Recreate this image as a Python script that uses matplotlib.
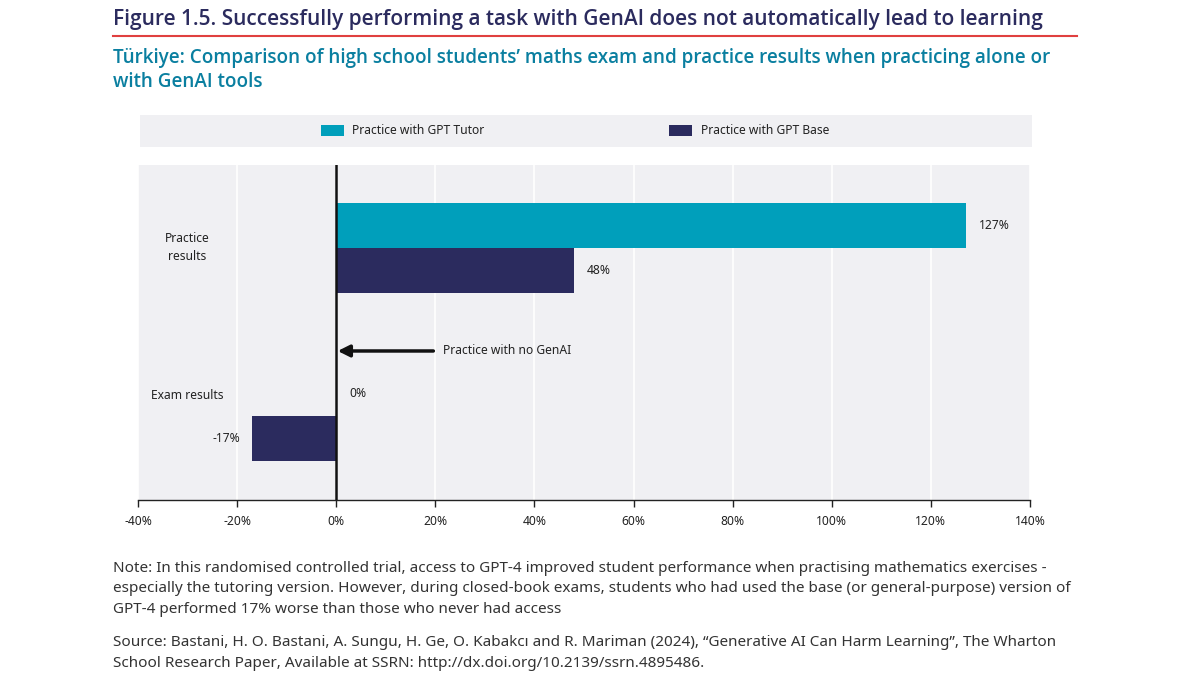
import matplotlib.pyplot as plt
from matplotlib.patches import Rectangle
import numpy as np

plt.rcParams['font.family'] = ['Noto Sans', 'DejaVu Sans']

categories = ['Practice\nresults', 'Exam results']
tutor = [127, 0]
base = [48, -17]
series_names = ['Practice with GPT Tutor', 'Practice with GPT Base']
xticks = [-40, -20, 0, 20, 40, 60, 80, 100, 120, 140]

TUTOR = '#009FBB'
BASE = '#2B2B5E'
BG = '#F0F0F3'
TEXT = '#222222'

fig = plt.figure(figsize=(11.91, 6.77), dpi=100)
ax = fig.add_axes([138 / 1191, 1 - 500 / 677, 892 / 1191, 335 / 677])
ax.set_facecolor(BG)

y = np.array([1.0, 0.0])
h = 0.268
b1 = ax.barh(y + h / 2, tutor, height=h, color=TUTOR, label=series_names[0])
b2 = ax.barh(y - h / 2, base, height=h, color=BASE, label=series_names[1])

# value labels
for yy, v in zip(y + h / 2, tutor):
    ax.text(v + 2.6, yy, f"{v}%", va='center', ha='left', fontsize=8.7, color=TEXT)
for yy, v in zip(y - h / 2, base):
    if v >= 0:
        ax.text(v + 2.6, yy, f"{v}%", va='center', ha='left', fontsize=8.7, color=TEXT)
    else:
        ax.text(v - 2.4, yy, f"{v}%", va='center', ha='right', fontsize=8.7, color=TEXT)

ax.set_xlim(-40, 140)
ax.set_ylim(-0.5, 1.494)
ax.set_xticks(xticks)
ax.set_xticklabels([f"{t}%" for t in xticks], fontsize=8.7, color=TEXT)
ax.set_yticks([])
ax.grid(axis='x', color='white', linewidth=1.2)
ax.set_axisbelow(True)
ax.tick_params(axis='x', length=5, width=1, color='#222222', pad=6)
for s in ['top', 'right', 'left']:
    ax.spines[s].set_visible(False)
ax.spines['bottom'].set_color('#222222')
ax.spines['bottom'].set_linewidth(1)
ax.axvline(0, color='#111111', linewidth=1.8, zorder=3)

# category labels inside the plot area
ax.text(-30, 1.0, categories[0], ha='center', va='center', fontsize=8.7, color=TEXT,
        linespacing=1.5)
ax.text(-30, 0.12, categories[1], ha='center', va='center', fontsize=8.7, color=TEXT)

# arrow annotation
ax.annotate('', xy=(0.3, 0.387), xytext=(19.6, 0.387),
            arrowprops=dict(arrowstyle='-|>,head_length=0.7,head_width=0.35',
                            color='#111111', lw=2.5, shrinkA=0, shrinkB=0))
ax.text(21.6, 0.387, 'Practice with no GenAI', ha='left', va='center', fontsize=8.7, color=TEXT)

# legend band
fig.patches.append(Rectangle((140 / 1191, 1 - 147 / 677), 892 / 1191, 32 / 677,
                             transform=fig.transFigure, facecolor=BG, edgecolor='none',
                             zorder=0))
fig.legend(handles=[b1, b2], labels=series_names, loc='center left',
           bbox_to_anchor=(310 / 1191, 1 - 131 / 677), ncol=2, frameon=False,
           fontsize=8.7, handlelength=1.9, handleheight=1.0, handletextpad=0.7,
           columnspacing=15.3, labelcolor=TEXT)

# titles
fig.text(113 / 1191, 1 - 20 / 677,
         'Figure 1.5. Successfully performing a task with GenAI does not automatically lead to learning',
         fontsize=15.0, family='Open Sans', fontweight='semibold', color='#2B2B5E',
         va='center', ha='left')
fig.add_artist(plt.Line2D([113 / 1191, 1077 / 1191], [1 - 36 / 677, 1 - 36 / 677],
                          transform=fig.transFigure, color='#E0403F', linewidth=1.5))
fig.text(113 / 1191, 1 - 70 / 677,
         'Türkiye: Comparison of high school students\u2019 maths exam and practice results when practicing alone or\nwith GenAI tools',
         fontsize=13.6, family='Open Sans', fontweight='semibold', color='#0A7FA0',
         va='center', ha='left', linespacing=1.28)

# notes
fig.text(113 / 1191, 1 - 589 / 677,
         'Note: In this randomised controlled trial, access to GPT-4 improved student performance when practising mathematics exercises -\n'
         'especially the tutoring version. However, during closed-book exams, students who had used the base (or general-purpose) version of\n'
         'GPT-4 performed 17% worse than those who never had access',
         fontsize=11, color='#333333', va='center', ha='left', linespacing=1.5)
fig.text(113 / 1191, 1 - 653 / 677,
         'Source: Bastani, H. O. Bastani, A. Sungu, H. Ge, O. Kabakc\u0131 and R. Mariman (2024), \u201cGenerative AI Can Harm Learning\u201d, The Wharton\n'
         'School Research Paper, Available at SSRN: http://dx.doi.org/10.2139/ssrn.4895486.',
         fontsize=11, color='#333333', va='center', ha='left', linespacing=1.5)

fig.savefig('out.png', dpi=100)
